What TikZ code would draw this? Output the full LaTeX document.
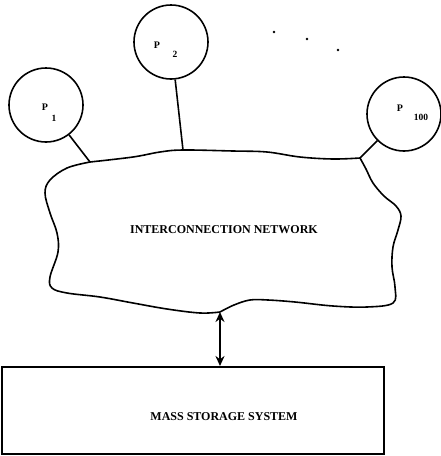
\documentclass[tikz,border=0pt]{standalone}
\usepackage{fontspec}
\setmainfont{Liberation Serif}
\usetikzlibrary{arrows.meta}
\begin{document}
\begin{tikzpicture}[x=1pt,y=-1pt,
  ln/.style={line width=1.6pt},
  proc/.style={draw,circle,line width=1.6pt,minimum size=74pt,inner sep=0pt},
  lbl/.style={font=\fontsize{10}{11}\selectfont\bfseries,inner sep=0pt},
  sub/.style={font=\fontsize{9.5}{10}\selectfont\bfseries,inner sep=0pt},
  big/.style={font=\fontsize{12}{13}\selectfont\bfseries,inner sep=0pt},
  dotty/.style={fill,circle,inner sep=0pt,minimum size=2.8pt}]
\useasboundingbox (0,0) rectangle (441,456);
% processors
\node[proc] (p1) at (46,105) {};
\node[proc] (p2) at (171,42) {};
\node[proc] (p100) at (404,114) {};
\node[lbl] (p1l) at (45,107) {P};
\node[sub] (p1s) at (54,118) {1};
\node[lbl] (p2l) at (157,45) {P};
\node[sub] (p2s) at (175,54) {2};
\node[lbl] (p100l) at (400,108) {P};
\node[sub] (p100s) at (421,117) {100};
% dots
\node[dotty] (d1) at (274,32) {};
\node[dotty] (d2) at (307,39) {};
\node[dotty] (d3) at (338,50) {};
% cloud
\coordinate (c1) at (90,162);
\coordinate (c2) at (183,150);
\coordinate (c3) at (360,158);
\coordinate (cb) at (220,312);
\draw[ln] plot[smooth,tension=0.6] coordinates {
 (90,162) (133,157) (160,152) (183,150) (233,151) (267,152) (300,157) (333,159) (360,158)};
\draw[ln] plot[smooth,tension=0.6] coordinates {
 (360,158) (366,169) (373,183) (384,196) (396,206) (401,216) (398,230) (393,247) (392,267) (395,287) (393,303)
 (367,307) (333,306) (295,302) (268,300) (250,300) (234,305) (220,312)};
\draw[ln] plot[smooth,tension=0.6] coordinates {
 (220,312) (200,313) (167,309) (133,303) (100,297) (67,293) (52,288)
 (50,277) (58,252) (57,233) (50,213) (45,193) (50,180) (67,168) (90,162)};
\node[big] (net) at (224,230) {INTERCONNECTION NETWORK};
% links
\draw[ln] (p1) -- (c1);
\draw[ln] (p2) -- (c2);
\draw[ln] (p100) -- (c3);
% storage
\node[draw,line width=1.6pt,minimum width=382pt,minimum height=87pt,inner sep=0pt,anchor=north west] (ms) at (1,366) {};
\node[big] (msl) at (224,417) {MASS STORAGE SYSTEM};
\draw[line width=1.8pt,{Stealth[length=10pt,width=9pt]}-{Stealth[length=10pt,width=9pt]}] (cb) -- (cb |- ms.north);
\end{tikzpicture}
\end{document}
